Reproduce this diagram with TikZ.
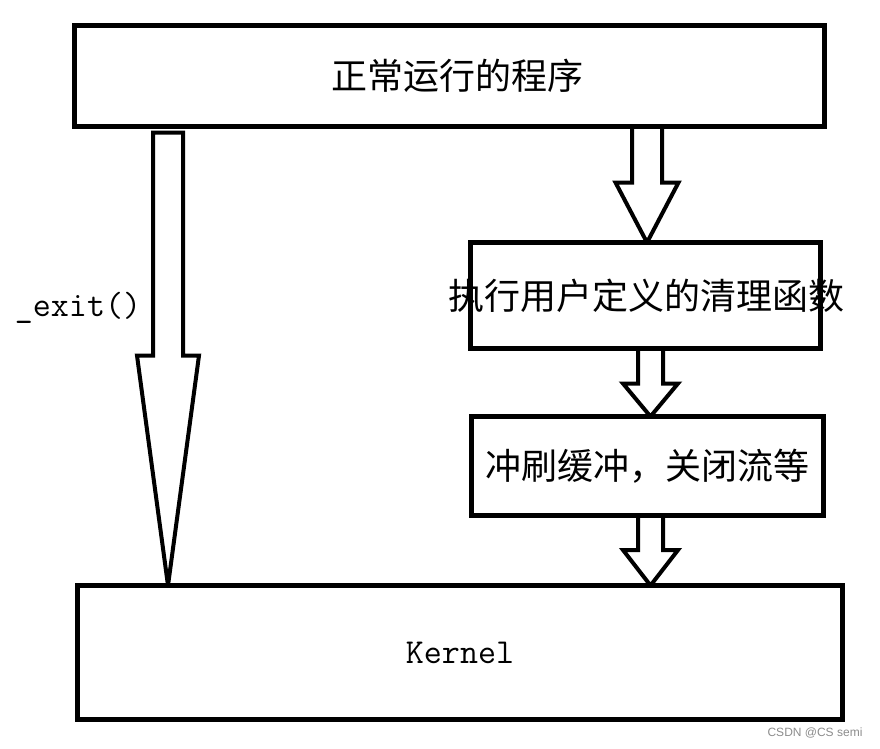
\documentclass[tikz,border=0pt]{standalone}
\usepackage{fontspec}
\newfontfamily\cjk{Noto Sans CJK SC}
\newfontfamily\wm{Liberation Sans}
\usetikzlibrary{calc,backgrounds}
\tikzset{
  box/.style={draw, fill=white, line width=5pt, rectangle, inner sep=0pt, outer sep=0pt,
    font=\cjk\fontsize{36}{40}\selectfont},
  fat/.style={draw, fill=white, line width=4pt, line join=miter},
  monotext/.style={font=\ttfamily\fontsize{35}{40}\selectfont, inner sep=0pt},
}
% start, tip, half shaft width, half head width, head length
\newcommand\fatarrow[5]{%
  \draw[fat] ($(#1)+(-#3,0)$) -- ($(#2)+(-#3,-#5)$) -- ($(#2)+(-#4,-#5)$) -- (#2)
    -- ($(#2)+(#4,-#5)$) -- ($(#2)+(#3,-#5)$) -- ($(#1)+(#3,0)$) -- cycle;}
\begin{document}
\begin{tikzpicture}[x=1pt, y=-1pt]
\useasboundingbox (0,0) rectangle (880,748);
\node[box, minimum width=750pt, minimum height=101pt] (top) at (449.5,76) {\hspace*{16pt}正常运行的程序};
\node[box, minimum width=350.5pt, minimum height=106pt] (clean) at (645.25,295.5) {\makebox[0pt]{\hspace*{3pt}执行用户定义的清理函数}};
\node[box, minimum width=352.5pt, minimum height=98.5pt] (flush) at (647.25,465.75) {\makebox[0pt]{冲刷缓冲，关闭流等}};
\node[box, minimum width=765pt, minimum height=134pt, monotext] (kern) at (460,652.5) {\raisebox{-5pt}{Kernel}};
\node[monotext] (exitlbl) at (78,308) {\_exit()};
\node[font=\wm\fontsize{12}{14}\selectfont, text=black!45, inner sep=0pt] (mark) at (815,733) {CSDN @CS semi};

\coordinate (a1s) at ($(168,0 |- top.south)+(0,6)$);
\coordinate (a1e) at (168,0 |- kern.north);
\coordinate (a2s) at (647,0 |- top.south);
\coordinate (a2e) at (647,0 |- clean.north);
\coordinate (a3s) at (650.5,0 |- clean.south);
\coordinate (a3e) at (650.5,0 |- flush.north);
\coordinate (a4s) at (650.5,0 |- flush.south);
\coordinate (a4e) at (650.5,0 |- kern.north);
\begin{scope}[on background layer]
\fatarrow{a1s}{a1e}{15}{31}{230}
\fatarrow{a2s}{a2e}{15}{31.5}{60}
\fatarrow{a3s}{a3e}{12.5}{27.5}{33}
\fatarrow{a4s}{a4e}{12.5}{27.5}{35.5}
\end{scope}
\end{tikzpicture}
\end{document}
